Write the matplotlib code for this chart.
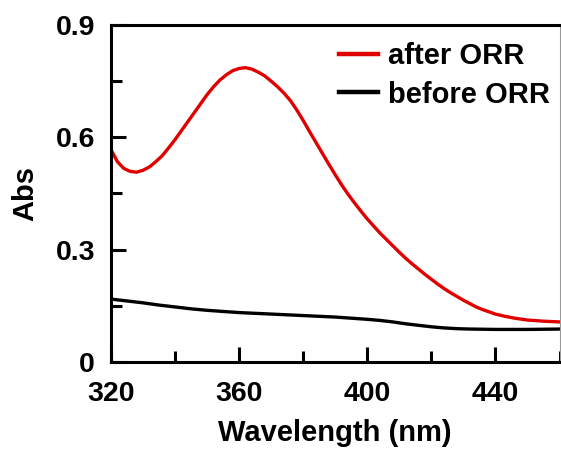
import matplotlib
matplotlib.use("Agg")
import matplotlib.pyplot as plt
from matplotlib.ticker import MultipleLocator

wl_after = [320, 322, 324, 326, 328, 330, 332, 334, 336, 338, 340, 342, 344, 346, 348,
            350, 352, 354, 356, 358, 360, 362, 364, 366, 368, 370, 372, 374, 376, 378,
            380, 382, 384, 386, 388, 390, 392, 394, 396, 398, 400, 402, 404, 406, 408,
            410, 412, 414, 416, 418, 420, 422, 424, 426, 428, 430, 432, 434, 436, 438,
            440, 443, 446, 450, 455, 460]
abs_after = [0.567, 0.535, 0.517, 0.509, 0.507, 0.512, 0.521, 0.535, 0.551, 0.572, 0.594,
             0.618, 0.642, 0.666, 0.690, 0.714, 0.735, 0.753, 0.767, 0.778, 0.784, 0.786,
             0.782, 0.774, 0.764, 0.750, 0.735, 0.718, 0.698, 0.673, 0.645, 0.615, 0.586,
             0.557, 0.528, 0.500, 0.473, 0.448, 0.425, 0.403, 0.382, 0.363, 0.344, 0.327,
             0.310, 0.293, 0.277, 0.262, 0.248, 0.234, 0.221, 0.208, 0.196, 0.185, 0.175,
             0.165, 0.156, 0.147, 0.140, 0.134, 0.128, 0.122, 0.117, 0.112, 0.109, 0.107]

wl_before = [320, 325, 330, 335, 340, 345, 350, 355, 360, 365, 370, 375, 380, 385, 390,
             395, 400, 404, 408, 412, 416, 420, 424, 428, 432, 440, 450, 460]
abs_before = [0.168, 0.163, 0.158, 0.152, 0.147, 0.142, 0.138, 0.135, 0.132, 0.130, 0.128,
              0.126, 0.124, 0.122, 0.120, 0.117, 0.114, 0.111, 0.107, 0.102, 0.098, 0.094,
              0.091, 0.089, 0.088, 0.087, 0.087, 0.088]

x_ticks = [320, 360, 400, 440]
y_ticks = [0, 0.3, 0.6, 0.9]
y_tick_labels = ["0", "0.3", "0.6", "0.9"]

plt.rcParams['font.family'] = ['Liberation Sans', 'DejaVu Sans']
plt.rcParams['font.weight'] = 'bold'

fig = plt.figure(figsize=(5.61, 4.5), dpi=100)
ax = fig.add_axes([111/561, 1 - 362/450, (559.5 - 111)/561, (362 - 25)/450])

ax.plot(wl_after, abs_after, color='#e00000', lw=2.4, label='after ORR',
        solid_joinstyle='round')
ax.plot(wl_before, abs_before, color='black', lw=2.4, label='before ORR',
        solid_joinstyle='round')

ax.set_xlim(320, 460)
ax.set_ylim(0, 0.9)
ax.set_xticks(x_ticks)
ax.set_xticklabels([str(t) for t in x_ticks])
ax.set_yticks(y_ticks)
ax.set_yticklabels(y_tick_labels)
ax.xaxis.set_minor_locator(MultipleLocator(20))
ax.yaxis.set_minor_locator(MultipleLocator(0.15))

ax.tick_params(which='major', direction='in', length=11, width=2.2, labelsize=20.5)
ax.tick_params(which='minor', direction='in', length=8, width=2.2)
ax.tick_params(axis='x', which='both', pad=14)
ax.tick_params(axis='y', which='both', pad=11.5)
ax.tick_params(top=False, right=False, which='both')

for s in ['left', 'bottom', 'top']:
    ax.spines[s].set_linewidth(2.2)
    ax.spines[s].set_color('black')
ax.spines['right'].set_linewidth(0.8)
ax.spines['right'].set_color('#999999')

ax.set_xlabel('Wavelength (nm)', fontsize=21, fontweight='bold', labelpad=8)
ax.set_ylabel('Abs', fontsize=21, fontweight='bold', labelpad=12)

leg = ax.legend(loc='upper right', bbox_to_anchor=(0.979, 0.950), frameon=False,
                fontsize=21, handlelength=1.34, handletextpad=0.34, labelspacing=0.37,
                borderaxespad=0, borderpad=0)
for t in leg.get_texts():
    t.set_fontweight('bold')
for h in leg.get_lines():
    h.set_linewidth(3.2)

fig.savefig('out.png', dpi=100)
